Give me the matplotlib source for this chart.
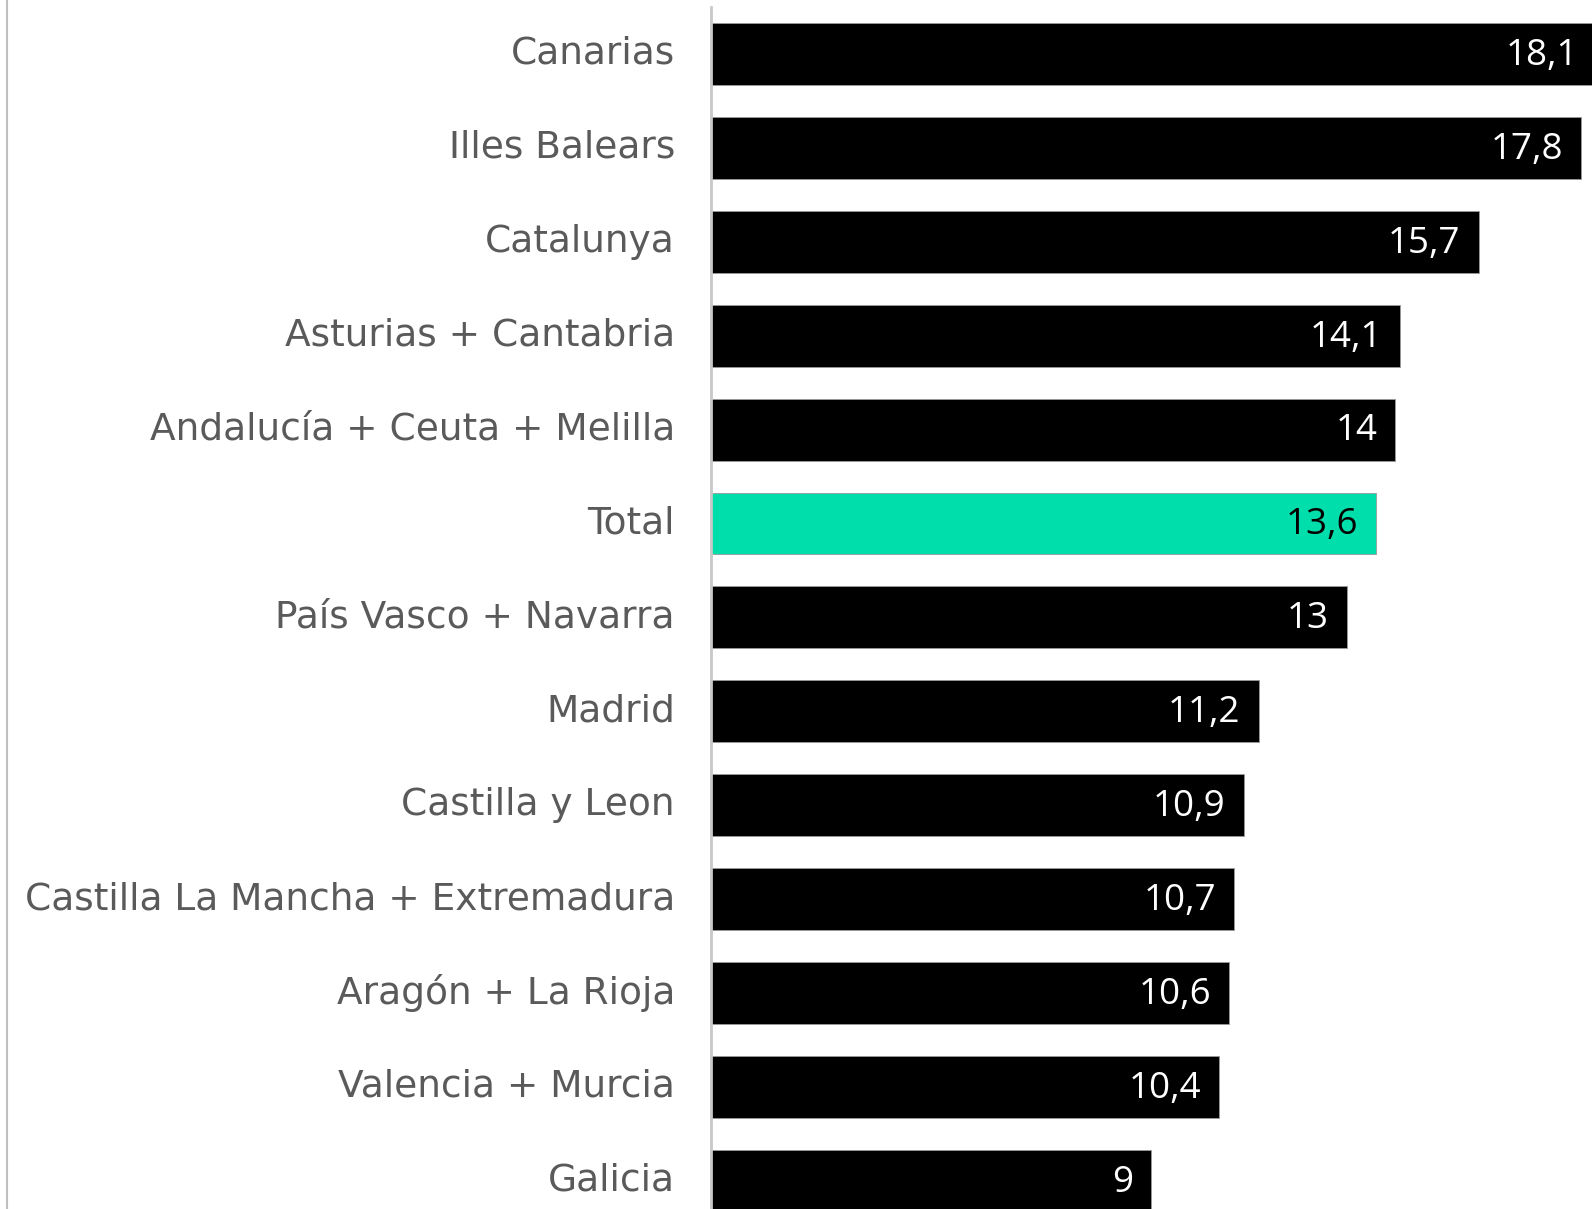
import matplotlib.pyplot as plt
from matplotlib.lines import Line2D
from matplotlib.transforms import ScaledTranslation

regions = [
    "Canarias",
    "Illes Balears",
    "Catalunya",
    "Asturias + Cantabria",
    "Andalucía + Ceuta + Melilla",
    "Total",
    "País Vasco + Navarra",
    "Madrid",
    "Castilla y Leon",
    "Castilla La Mancha + Extremadura",
    "Aragón + La Rioja",
    "Valencia + Murcia",
    "Galicia",
]
values = [18.1, 17.8, 15.7, 14.1, 14, 13.6, 13, 11.2, 10.9, 10.7, 10.6, 10.4, 9]
labels = ["18,1", "17,8", "15,7", "14,1", "14", "13,6", "13", "11,2", "10,9", "10,7", "10,6", "10,4", "9"]

W, H = 1592, 1209
fig = plt.figure(figsize=(W / 100, H / 100), dpi=100)
x0 = 711 / W
ax = fig.add_axes([x0, 0, 1 - x0, 1])

colors = ["#00dfab" if r == "Total" else "black" for r in regions]
y = list(range(len(regions)))
ax.barh(y, values, height=0.66, color=colors, edgecolor="#9a9a9a", linewidth=0.6)

ax.set_xlim(0, 18.02)
ax.set_ylim(12.3, -0.575)

for i, (v, lab, r) in enumerate(zip(values, labels, regions)):
    c = "black" if r == "Total" else "white"
    ax.text(v - 0.37, i + 0.02, lab, ha="right", va="center", color=c,
            fontsize=26.5, family="Open Sans")

ax.set_yticks(y)
ax.set_yticklabels(regions, fontsize=27, color="#5a5a5a", family="DejaVu Sans")
ax.tick_params(axis="y", length=0, pad=26)
# nudge the region names up a little
shift = ScaledTranslation(0, 4 / 100, fig.dpi_scale_trans)
for t in ax.get_yticklabels():
    t.set_transform(t.get_transform() + shift)
ax.set_xticks([])
for s in ax.spines.values():
    s.set_visible(False)

# gray axis line and left border
fig.add_artist(Line2D([x0, x0], [0, 1 - 7 / H], transform=fig.transFigure,
                      color="#c8c8c8", lw=2))
fig.add_artist(Line2D([6.5 / W, 6.5 / W], [0, 1], transform=fig.transFigure,
                      color="#c0c0c0", lw=1.5))

fig.savefig("out.png", dpi=100)
